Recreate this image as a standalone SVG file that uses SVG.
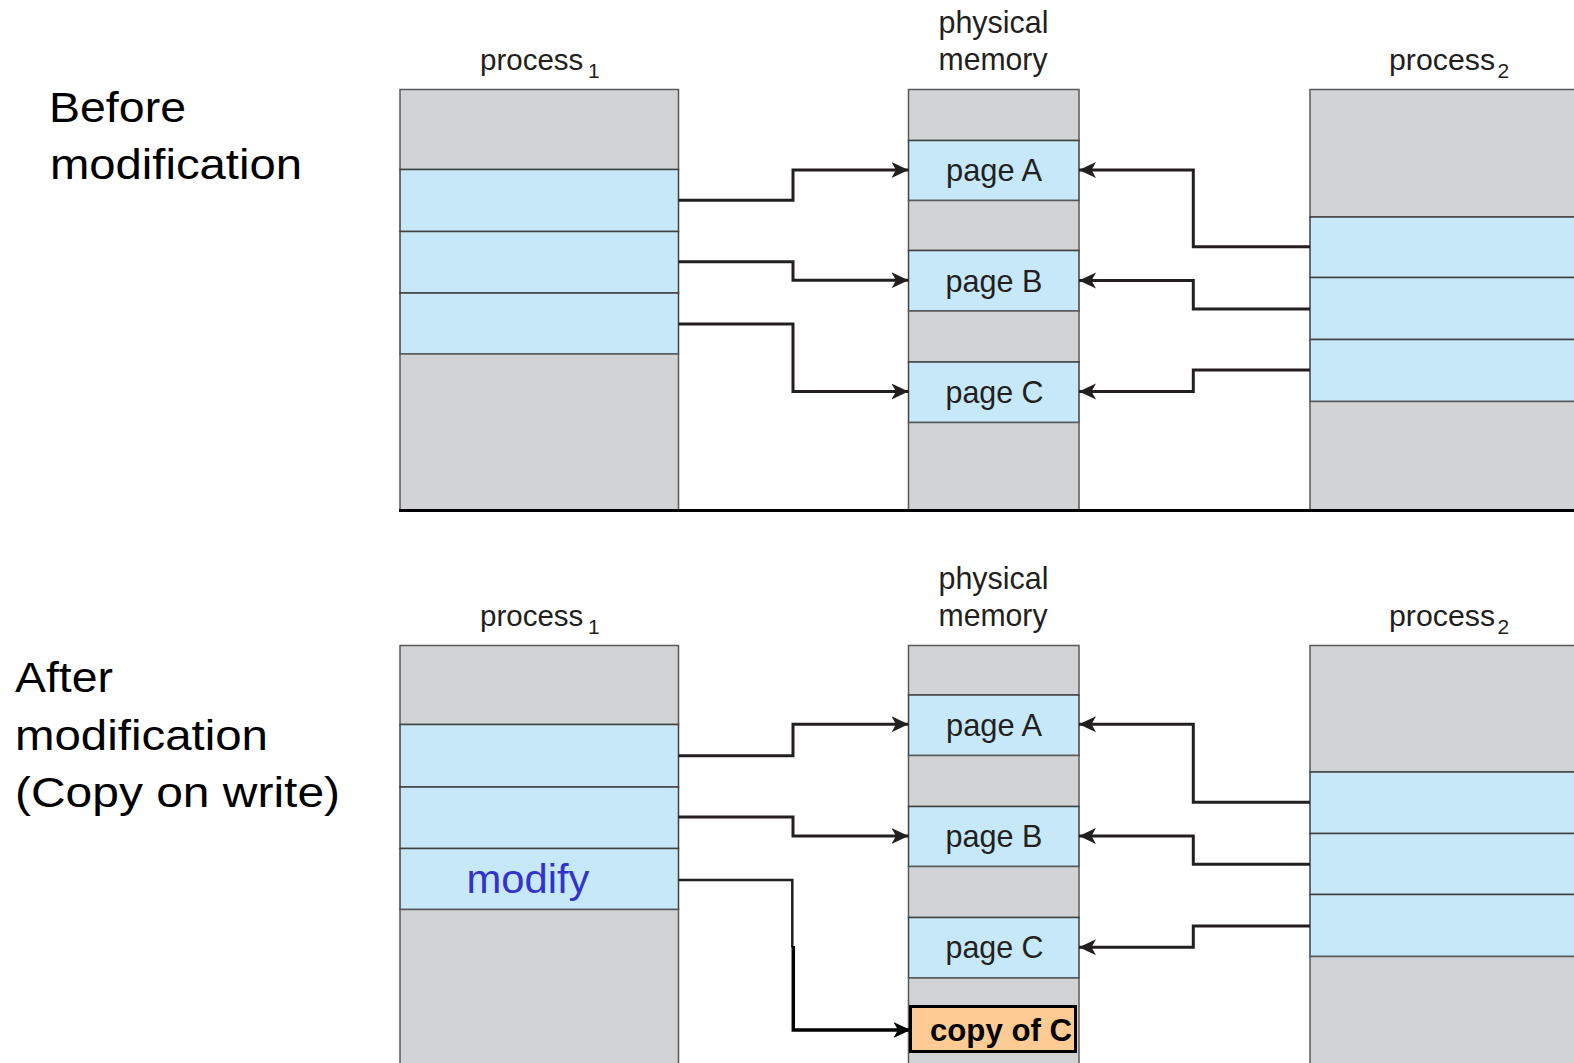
<svg xmlns="http://www.w3.org/2000/svg" width="1574" height="1063" viewBox="0 0 1574 1063">
<defs>
<style>
.g{fill:#D1D3D4;stroke:#58595B;stroke-width:1.5}
.b{fill:#C6E8F9;stroke:#414042;stroke-width:1.5}
.t{font-family:"Liberation Sans",Arial,sans-serif;fill:#231F20}
.lbl{font-size:32px}
.p1{font-size:29.5px}
.p2{font-size:30.3px}
.sub{font-size:21px}
.pg{font-size:32px;text-anchor:middle}
.title{font-family:"Liberation Sans",Arial,sans-serif;font-size:43px;fill:#000}
.conn{fill:none;stroke:#231F20;stroke-width:3;marker-end:url(#ah)}
</style>
<marker id="ah" viewBox="0 0 18 17" refX="17" refY="8.5" markerWidth="18" markerHeight="17" orient="auto" markerUnits="userSpaceOnUse">
<path d="M0,0.5 L17,8.5 L0,16.5 L4.5,8.5 Z" fill="#231F20"/>
</marker>
<marker id="ahk" viewBox="0 0 18 17" refX="17" refY="8.5" markerWidth="18" markerHeight="17" orient="auto" markerUnits="userSpaceOnUse">
<path d="M0,0.5 L17,8.5 L0,16.5 L4.5,8.5 Z" fill="#000"/>
</marker>
</defs>
<rect width="1574" height="1063" fill="#fff"/>

<!-- Titles -->
<g id="title-before">
<text class="title" x="49" y="122" textLength="137" lengthAdjust="spacingAndGlyphs">Before</text>
<text class="title" x="50" y="179" textLength="252" lengthAdjust="spacingAndGlyphs">modification</text>
</g>
<g id="title-after">
<text class="title" x="15" y="691.5" textLength="98" lengthAdjust="spacingAndGlyphs">After</text>
<text class="title" x="15" y="749.5" textLength="253" lengthAdjust="spacingAndGlyphs">modification</text>
<text class="title" x="15" y="807" textLength="325" lengthAdjust="spacingAndGlyphs">(Copy on write)</text>
</g>

<!-- TOP SECTION -->
<g id="top-process1">
<text class="t p1" x="480" y="70">process</text><text class="t sub" x="588" y="78">1</text>
<rect class="g" x="400" y="89.5" width="278.5" height="80"/>
<rect class="b" x="400" y="169.5" width="278.5" height="62"/>
<rect class="b" x="400" y="231.5" width="278.5" height="61.5"/>
<rect class="b" x="400" y="293" width="278.5" height="61"/>
<rect class="g" x="400" y="354" width="278.5" height="156"/>
</g>
<g id="top-physical-memory">
<text class="t lbl" x="938.5" y="33.3" textLength="110" lengthAdjust="spacingAndGlyphs">physical</text>
<text class="t lbl" x="938.5" y="70" textLength="109" lengthAdjust="spacingAndGlyphs">memory</text>
<rect class="g" x="908.5" y="89.5" width="170.5" height="51"/>
<rect class="b" x="908.5" y="140.5" width="170.5" height="60"/>
<rect class="g" x="908.5" y="200.5" width="170.5" height="50"/>
<rect class="b" x="908.5" y="250.5" width="170.5" height="60.5"/>
<rect class="g" x="908.5" y="311" width="170.5" height="51"/>
<rect class="b" x="908.5" y="362" width="170.5" height="60.5"/>
<rect class="g" x="908.5" y="422.5" width="170.5" height="87.5"/>
<text class="t pg" x="994" y="181" textLength="96" lengthAdjust="spacingAndGlyphs">page A</text>
<text class="t pg" x="994" y="291.5" textLength="97" lengthAdjust="spacingAndGlyphs">page B</text>
<text class="t pg" x="994.5" y="403" textLength="98" lengthAdjust="spacingAndGlyphs">page C</text>
</g>
<g id="top-process2">
<text class="t p2" x="1389" y="70">process</text><text class="t sub" x="1497.5" y="78">2</text>
<rect class="g" x="1310" y="89.5" width="270" height="127.5"/>
<rect class="b" x="1310" y="217" width="270" height="60.5"/>
<rect class="b" x="1310" y="277.5" width="270" height="62"/>
<rect class="b" x="1310" y="339.5" width="270" height="62"/>
<rect class="g" x="1310" y="401.5" width="270" height="108.5"/>
</g>
<line id="separator" x1="399" y1="510.5" x2="1574" y2="510.5" stroke="#000" stroke-width="3"/>

<!-- BOTTOM SECTION -->
<g id="bottom-process1">
<text class="t p1" x="480" y="626">process</text><text class="t sub" x="588" y="634">1</text>
<rect class="g" x="400" y="645.5" width="278.5" height="79"/>
<rect class="b" x="400" y="724.5" width="278.5" height="62.5"/>
<rect class="b" x="400" y="787" width="278.5" height="61.5"/>
<rect class="b" x="400" y="848.5" width="278.5" height="61"/>
<rect class="g" x="400" y="909.5" width="278.5" height="160"/>
<text x="466.5" y="892.7" font-family="'Liberation Sans',Arial,sans-serif" font-size="40" fill="#3333CC" textLength="123" lengthAdjust="spacingAndGlyphs">modify</text>
</g>
<g id="bottom-physical-memory">
<text class="t lbl" x="938.5" y="589" textLength="110" lengthAdjust="spacingAndGlyphs">physical</text>
<text class="t lbl" x="938.5" y="626" textLength="109" lengthAdjust="spacingAndGlyphs">memory</text>
<rect class="g" x="908.5" y="645.5" width="170.5" height="49.5"/>
<rect class="b" x="908.5" y="695" width="170.5" height="60.5"/>
<rect class="g" x="908.5" y="755.5" width="170.5" height="51"/>
<rect class="b" x="908.5" y="806.5" width="170.5" height="60"/>
<rect class="g" x="908.5" y="866.5" width="170.5" height="51"/>
<rect class="b" x="908.5" y="917.5" width="170.5" height="60.5"/>
<rect class="g" x="908.5" y="978" width="170.5" height="92"/>
<text class="t pg" x="994" y="736" textLength="96" lengthAdjust="spacingAndGlyphs">page A</text>
<text class="t pg" x="994" y="847" textLength="97" lengthAdjust="spacingAndGlyphs">page B</text>
<text class="t pg" x="994.5" y="958" textLength="98" lengthAdjust="spacingAndGlyphs">page C</text>
</g>
<g id="copy-of-c">
<rect x="910.5" y="1006.5" width="165" height="45" fill="#FECB95" stroke="#000" stroke-width="3"/>
<text x="930" y="1041" font-family="'Liberation Sans',Arial,sans-serif" font-size="31" font-weight="bold" fill="#000" textLength="142" lengthAdjust="spacingAndGlyphs">copy of C</text>
</g>
<g id="bottom-process2">
<text class="t p2" x="1389" y="626">process</text><text class="t sub" x="1497.5" y="634">2</text>
<rect class="g" x="1310" y="645.5" width="270" height="126.5"/>
<rect class="b" x="1310" y="772" width="270" height="61.5"/>
<rect class="b" x="1310" y="833.5" width="270" height="61"/>
<rect class="b" x="1310" y="894.5" width="270" height="62"/>
<rect class="g" x="1310" y="956.5" width="270" height="115"/>
</g>

<!-- CONNECTORS -->
<g id="connectors">
<path class="conn" d="M678.5,200.3 H793 V170 H908.5"/>
<path class="conn" d="M678.5,261.7 H793 V280.3 H908.5"/>
<path class="conn" d="M678.5,324 H793 V391.5 H908.5"/>
<path class="conn" d="M1310,246.7 H1193.3 V170 H1079"/>
<path class="conn" d="M1310,309 H1193.3 V280.5 H1079"/>
<path class="conn" d="M1310,370 H1193.3 V391.5 H1079"/>

<path class="conn" d="M678.5,755.7 H793 V724.3 H908.5"/>
<path class="conn" d="M678.5,817 H793 V836 H908.5"/>
<path d="M678.5,880 H792.3 V947.5" fill="none" stroke="#231F20" stroke-width="2.5"/>
<path d="M793.3,946 V1030 H910.5" fill="none" stroke="#000" stroke-width="3.5" marker-end="url(#ahk)"/>
<path class="conn" d="M1310,802.3 H1193.3 V724.3 H1079"/>
<path class="conn" d="M1310,864.3 H1193.3 V836 H1079"/>
<path class="conn" d="M1310,926 H1193.3 V947.3 H1079"/>
</g>
</svg>
